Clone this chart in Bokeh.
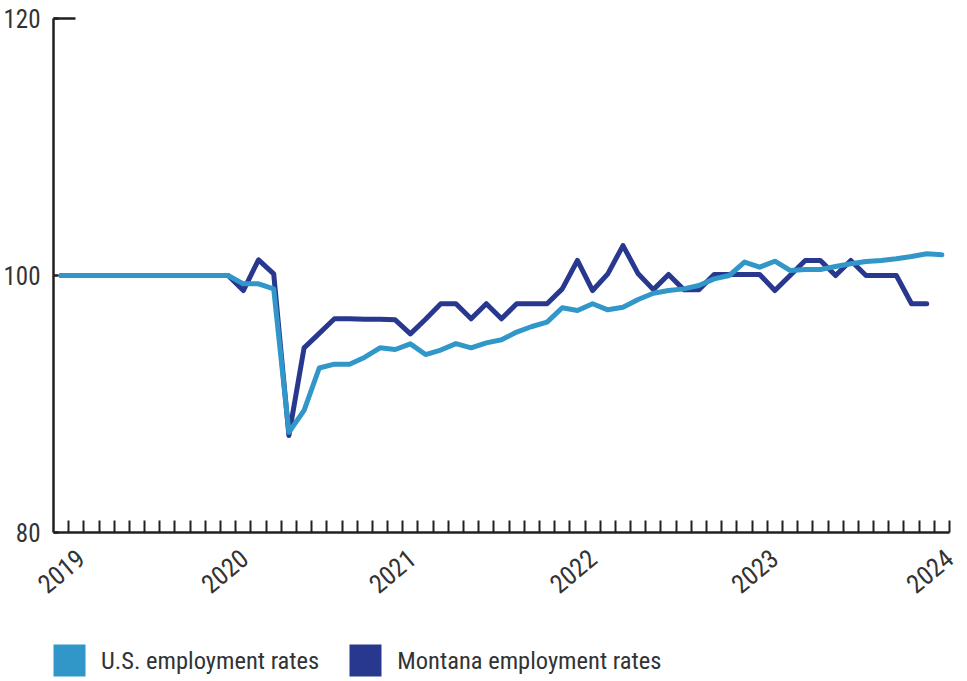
import math
from bokeh.plotting import figure
from bokeh.layouts import column
from bokeh.models import Range1d, FixedTicker, CustomJSTickFormatter, Legend, LegendItem
from bokeh.embed import file_html
from bokeh.resources import INLINE

# ---- data (index 100 = Jan 2019), monthly Jan 2019 .. Nov 2023 ----
months = [f"{y}-{m:02d}" for y in range(2019, 2024) for m in range(1, 13)][:59]

us_rate = [
    100.0, 100.0, 100.0, 100.0, 100.0, 100.0, 100.0, 100.0, 100.0, 100.0, 100.0, 100.0,
    99.35, 99.35, 98.96, 87.8, 89.5, 92.8, 93.1, 93.1, 93.64, 94.37, 94.24, 94.68,
    93.85, 94.2, 94.7, 94.37, 94.76, 95.0, 95.6, 96.03, 96.37, 97.49, 97.28, 97.8,
    97.33, 97.53, 98.13, 98.62, 98.83, 98.96, 99.22, 99.74, 100.0, 101.04, 100.65, 101.11,
    100.39, 100.47, 100.47, 100.7, 100.91, 101.09, 101.17, 101.3, 101.48, 101.69, 101.61,
]

mt_rate = [
    100.0, 100.0, 100.0, 100.0, 100.0, 100.0, 100.0, 100.0, 100.0, 100.0, 100.0, 100.0,
    98.83, 101.22, 100.13, 87.55, 94.37, 95.5, 96.63, 96.63, 96.6, 96.6, 96.55, 95.46,
    96.6, 97.8, 97.8, 96.63, 97.8, 96.63, 97.8, 97.8, 97.8, 98.96, 101.17, 98.83,
    100.13, 102.33, 100.13, 98.9, 100.08, 98.9, 98.9, 100.08, 100.08, 100.08, 100.08, 98.83,
    100.0, 101.17, 101.17, 100.0, 101.17, 100.0, 100.0, 100.0, 97.8, 97.8,
]

series_names = ["U.S. employment rates", "Montana employment rates"]
year_labels = ["2019", "2020", "2021", "2022", "2023", "2024"]
y_ticks = [80, 100, 120]

# ---- style / layout ----
FONT = "Roboto Condensed, DejaVu Sans Condensed, Liberation Sans Narrow, Roboto, sans-serif"
US_COLOR = "#3097c8"
MT_COLOR = "#29388f"
AX_COLOR = "#231f20"
TXT_COLOR = "#333333"
year_pos = [1.8, 12.56, 23.6, 35.5, 47.46, 58.99]   # label anchor positions (month slots)

x_us = [i + 0.5 for i in range(len(us_rate))]
x_mt = [i + 0.5 for i in range(len(mt_rate))]

p = figure(width=959, height=620,
           x_range=Range1d(0, len(months)), y_range=Range1d(80, 120),
           output_backend="svg", toolbar_location=None,
           min_border_left=47, min_border_right=10, min_border_top=18, min_border_bottom=88)
p.outline_line_color = None
p.grid.visible = False
p.background_fill_color = "white"
p.border_fill_color = "white"

p.line(x_mt, mt_rate, line_width=5, line_color=MT_COLOR, line_join="round", line_cap="round")
p.line(x_us, us_rate, line_width=5, line_color=US_COLOR, line_join="round", line_cap="round")

# x axis
xa = p.xaxis[0]
xa.ticker = FixedTicker(ticks=year_pos, minor_ticks=list(range(1, len(months) + 1)))
xa.formatter = CustomJSTickFormatter(
    args=dict(pos=year_pos, lab=year_labels),
    code="const i = pos.findIndex(v => Math.abs(v - tick) < 1e-6); return i >= 0 ? lab[i] : '';")
xa.major_tick_in = 0
xa.major_tick_out = 0
xa.minor_tick_in = 12
xa.minor_tick_out = 0
xa.minor_tick_line_width = 2
xa.minor_tick_line_color = AX_COLOR
xa.axis_line_width = 2.5
xa.axis_line_color = AX_COLOR
xa.major_label_orientation = math.radians(40)
xa.major_label_standoff = 22
xa.major_label_text_font = FONT
xa.major_label_text_font_size = "26px"
xa.major_label_text_color = TXT_COLOR

# y axis (long inward tick only at the top value)
ya = p.yaxis[0]
ya.ticker = FixedTicker(ticks=y_ticks, minor_ticks=[y_ticks[-1]])
ya.major_tick_in = 5
ya.major_tick_out = 0
ya.major_tick_line_width = 2.5
ya.major_tick_line_color = AX_COLOR
ya.minor_tick_in = 22
ya.minor_tick_out = 0
ya.minor_tick_line_width = 2.5
ya.minor_tick_line_color = AX_COLOR
ya.axis_line_width = 2.5
ya.axis_line_color = AX_COLOR
ya.major_label_standoff = 13
ya.major_label_text_font = FONT
ya.major_label_text_font_size = "25px"
ya.major_label_text_color = TXT_COLOR

# ---- legend strip (separate figure below the chart; frames are aligned by the column) ----
lg = figure(width=959, height=61, x_range=Range1d(0, 1), y_range=Range1d(0, 1),
            output_backend="svg", toolbar_location=None,
            x_axis_location=None, y_axis_location=None,
            min_border_left=0, min_border_right=0, min_border_top=0, min_border_bottom=0)
lg.outline_line_color = None
lg.grid.visible = False
nan = float("nan")
r_us = lg.quad(left=[nan], right=[nan], bottom=[nan], top=[nan], fill_color=US_COLOR, line_color=None)
r_mt = lg.quad(left=[nan], right=[nan], bottom=[nan], top=[nan], fill_color=MT_COLOR, line_color=None)

legend = Legend(items=[LegendItem(label=series_names[0], renderers=[r_us]),
                       LegendItem(label=series_names[1], renderers=[r_mt])],
                orientation="horizontal", location=(-4, 1),
                glyph_width=40, glyph_height=40, label_standoff=12, spacing=26,
                padding=0, margin=0, border_line_color=None, background_fill_alpha=0,
                label_text_font=FONT, label_text_font_size="24.5px",
                label_text_color=TXT_COLOR, label_height=40)
lg.add_layout(legend, "center")

layout = column(p, lg, spacing=0)
open("out.html", "w").write(file_html(layout, INLINE))
